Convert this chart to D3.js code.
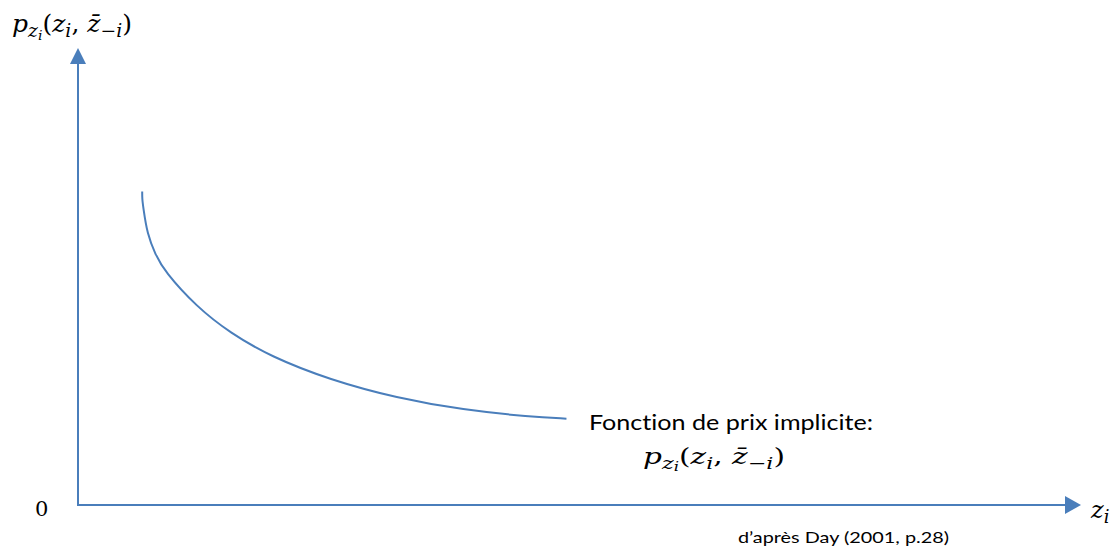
<!DOCTYPE html>
<meta charset="utf-8">
<style>
    body { margin: 0; background: #fff; }
    .math { font-family: "DejaVu Serif", "Liberation Serif", serif; font-style: italic; fill: #000; }
    .note { font-family: "Lato", "Open Sans", sans-serif; fill: #000; font-variant-ligatures: none; }
</style>
<body>
<script src="https://cdnjs.cloudflare.com/ajax/libs/d3/7.8.5/d3.min.js"></script>
<script>

    // curve (arbitrary units, 0..10 on both axes)
    var zValues = [0.64, 0.64, 0.65, 0.69, 0.77, 0.86, 1.18, 1.52, 1.92, 2.51, 3.18, 3.84, 4.51, 4.87];
    var pValues = [6.86, 6.70, 6.52, 5.93, 5.49, 5.12, 4.34, 3.76, 3.25, 2.74, 2.34, 2.08, 1.93, 1.89];

    var width = 1115, height = 550,
        blue = "#4a7ebb";

    var x = d3.scaleLinear().domain([0, 10]).range([78, 1081]),
        y = d3.scaleLinear().domain([0, 10]).range([505, 48]);

    var svg = d3.select("body").append("svg")
        .attr("width", width)
        .attr("height", height);

    // axes
    svg.append("line")
        .attr("x1", x(0)).attr("y1", y(0))
        .attr("x2", x(0)).attr("y2", y(10) + 14)
        .attr("stroke", blue).attr("stroke-width", 2);
    svg.append("path")
        .attr("d", "M" + x(0) + "," + y(10) + "l-8,16h16z")
        .attr("fill", blue);

    svg.append("line")
        .attr("x1", x(0) - 1).attr("y1", y(0))
        .attr("x2", x(10) - 14).attr("y2", y(0))
        .attr("stroke", blue).attr("stroke-width", 2);
    svg.append("path")
        .attr("d", "M" + x(10) + "," + y(0) + "l-16,-9v18z")
        .attr("fill", blue);

    // implicit price function
    var line = d3.line()
        .curve(d3.curveBasis)
        .x(function (d, i) { return x(zValues[i]); })
        .y(function (d, i) { return y(pValues[i]); });

    svg.append("path")
        .datum(zValues)
        .attr("d", line)
        .attr("fill", "none")
        .attr("stroke", blue)
        .attr("stroke-width", 2);

    // p_{z_i}(z_i, z̄_{-i})
    function priceLabel(px, py, size, len) {
        var t = svg.append("text").attr("class", "math")
            .attr("x", px).attr("y", py)
            .attr("textLength", len)
            .attr("lengthAdjust", "spacingAndGlyphs")
            .style("font-size", size + "px");
        var s = size * 0.75;
        t.append("tspan").text("p");
        t.append("tspan").attr("dy", size * 0.2).style("font-size", s + "px").text("z");
        t.append("tspan").attr("dy", size * 0.12).style("font-size", s * 0.75 + "px").text("i");
        t.append("tspan").attr("dy", -size * 0.32).style("font-style", "normal").text("(");
        t.append("tspan").text("z");
        t.append("tspan").attr("dy", size * 0.2).style("font-size", s + "px").text("i");
        t.append("tspan").attr("dy", -size * 0.2).style("font-style", "normal").text(", ");
        t.append("tspan").text("z\u0304");
        t.append("tspan").attr("dy", size * 0.2).style("font-size", s + "px").text("\u2212i");
        t.append("tspan").attr("dy", -size * 0.2).style("font-style", "normal").text(")");
        return t;
    }

    priceLabel(12, 32, 24, 120);

    svg.append("text").attr("class", "math")
        .attr("x", 35).attr("y", 516)
        .style("font-style", "normal")
        .style("font-size", "21px")
        .text("0");

    var zl = svg.append("text").attr("class", "math")
        .attr("x", 1091).attr("y", 518)
        .style("font-size", "24px");
    zl.append("tspan").text("z");
    zl.append("tspan").attr("dy", 5).style("font-size", "18px").text("i");

    svg.append("text").attr("class", "note")
        .attr("x", 589).attr("y", 430)
        .attr("textLength", 284)
        .attr("lengthAdjust", "spacingAndGlyphs")
        .style("font-size", "21px")
        .text("Fonction de prix implicite:");

    priceLabel(643, 464, 23, 142);

    svg.append("text").attr("class", "note")
        .attr("x", 738).attr("y", 543)
        .attr("textLength", 211)
        .attr("lengthAdjust", "spacingAndGlyphs")
        .style("font-size", "16px")
        .text("d\u2019apr\u00e8s Day (2001, p.28)");

</script>
</body>
